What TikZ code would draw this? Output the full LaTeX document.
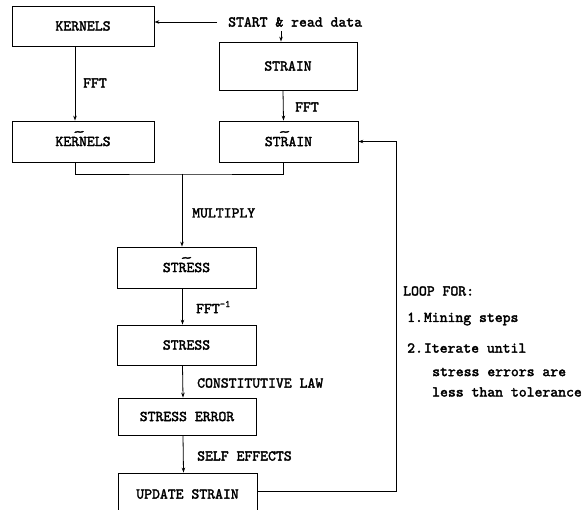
\documentclass[tikz,border=0pt]{standalone}
\usepackage{fontspec}
\usepackage{graphicx}
\setmonofont{lmmono10-regular.otf}[FakeBold=2.2]
\usetikzlibrary{arrows.meta}
\newcommand\tld[1]{\setbox0\hbox{#1}\rlap{\hbox to\wd0{\hss\raisebox{10pt}[0pt][0pt]{\scalebox{1.7}[0.9]{\char"7E}}\hss}}\box0}
\begin{document}
\begin{tikzpicture}[x=1pt,y=-1pt,
  font=\fontsize{15}{18}\selectfont\ttfamily,
  box/.style={draw,line width=0.8pt,inner sep=0pt,minimum width=#1},
  lbl/.style={anchor=west,inner sep=0pt},
  conn/.style={line width=0.8pt},
  arr/.style={line width=0.8pt,-{Stealth[length=5pt,width=3.5pt]}}]
\useasboundingbox (0,0) rectangle (588,510);
\clip (0,0) rectangle (588,510);
% boxes
\node[box=142pt,minimum height=40pt] (k1) at (83,26) {KERNELS};
\node[box=138pt,minimum height=48pt] (s1) at (288,66) {STRAIN};
\node[box=142pt,minimum height=41pt] (k2) at (83,141.5) {KE\tld{RN}ELS};
\node[box=139pt,minimum height=41pt] (s2) at (288.5,141.5) {S\tld{TRA}IN};
\node[box=139pt,minimum height=41pt] (ss) at (186.5,267.5) {ST\tld{RE}SS};
\node[box=139pt,minimum height=40pt] (st) at (186.5,345) {STRESS};
\node[box=138pt,minimum height=37pt] (se) at (187,416.5) {STRESS ERROR};
\node[box=139pt,minimum height=42pt] (us) at (187.5,494) {UPDATE STRAIN};
% start text
\node[lbl] (start) at (228,22) {START \& read data};
% labels
\node[lbl] (f1) at (83,83) {FFT};
\node[lbl] (f2) at (295,107) {FFT};
\node[lbl] (mu) at (192,213) {MULTIPLY};
\node[lbl] (fi) at (196,307) {FFT\raisebox{6pt}{\fontsize{10}{10}\selectfont -1}};
\node[lbl] (cl) at (197,383) {CONSTITUTIVE LAW};
\node[lbl] (sf) at (197,456) {SELF EFFECTS};
\node[lbl] (lp) at (403,291) {LOOP FOR:};
\node[lbl] (l1) at (407,319) {1.\kern1pt Mining steps};
\node[lbl] (l2) at (407,348) {2.\kern1pt Iterate until};
\node[lbl] (l3) at (432,372) {stress errors are};
\node[lbl] (l4) at (432,392) {less than tolerance};
% connectors
\draw[arr] ([xshift=-11]start.west) -- (start.west -| k1.east);
\draw[arr] ([xshift=53,yshift=-4]start.south west) -- ([xshift=53]start.south west |- s1.north);
\draw[arr] ([xshift=-8]k1.south) -- ([xshift=-8]k2.north);
\draw[arr] ([xshift=-5]s1.south) -- ([xshift=-5]s2.north);
\coordinate (j) at (182,174);
\draw[conn] ([xshift=-8]k2.south) |- (j) -| ([xshift=-5]s2.south);
\draw[arr] (j) -- (j |- ss.north);
\draw[arr] ([xshift=-4]ss.south) -- ([xshift=-4]st.north);
\draw[arr] ([xshift=-4]st.south) -- ([xshift=-4]se.north);
\draw[arr] ([xshift=-4]se.south) -- ([xshift=-4]us.north);
\draw[arr] ([yshift=3]us.east) -- ++(139,0) |- (s2.east);
\end{tikzpicture}
\end{document}
